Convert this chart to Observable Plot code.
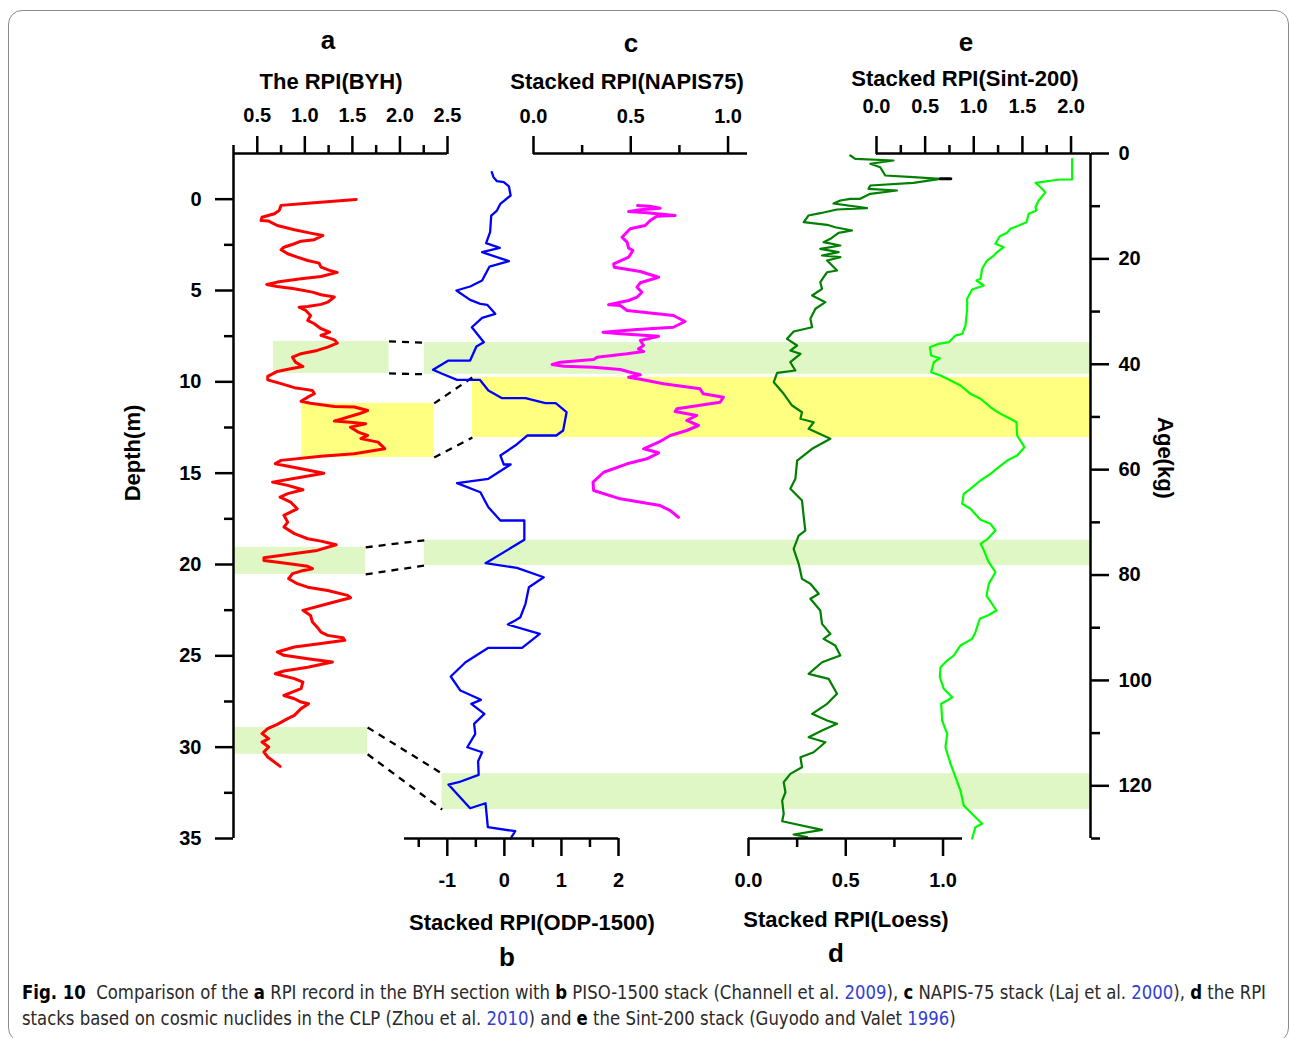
<!DOCTYPE html>
<html><head><meta charset="utf-8">
<script src="https://cdn.jsdelivr.net/npm/d3@7"></script>
<script src="https://cdn.jsdelivr.net/npm/@observablehq/plot@0.6"></script>
<style>
body{margin:0;background:#fff;}
#fig{position:relative;width:1290px;height:1038px;overflow:hidden;background:#fff;}
#border{position:absolute;left:8px;top:10px;width:1281px;height:1032px;border:1.5px solid #8c8c8c;border-radius:14px;box-sizing:border-box;}
.layer{position:absolute;left:0;top:0;}
.ttl{position:absolute;font-family:"Liberation Sans",Arial,sans-serif;font-weight:bold;color:#000;line-height:1;white-space:nowrap;transform:translate(-50%,-50%);}
#caption{position:absolute;left:22px;top:979px;font-family:"Liberation Sans Narrow","DejaVu Sans Condensed","Noto Sans",sans-serif;font-size:19px;line-height:26px;color:#2a2a2a;white-space:nowrap;transform-origin:0 0;}
#caption b{color:#000}
#caption .ref{color:#3240d4}
</style></head><body>
<div id="fig"><div id="border"></div><div id="chart"></div><div id="titles"></div>
<div id="caption"><span id="cap1"><b>Fig. 10</b>&nbsp; Comparison of the <b>a</b> RPI record in the BYH section with <b>b</b> PISO-1500 stack (Channell et al. <span class="ref">2009</span>), <b>c</b> NAPIS-75 stack (Laj et al. <span class="ref">2000</span>), <b>d</b> the RPI</span><br>stacks based on cosmic nuclides in the CLP (Zhou et al. <span class="ref">2010</span>) and <b>e</b> the Sint-200 stack (Guyodo and Valet <span class="ref">1996</span>)</div>
</div>
<script>
// ---------------- DATA ----------------
// a: RPI of BYH section, [depth (m), RPI]
const byhSeries = [[0.02,1.54],[0.22,1.03],[0.34,0.75],[0.62,0.73],[0.80,0.68],[0.99,0.55],[1.17,0.54],[1.20,0.62],[1.44,0.71],[1.67,0.89],[1.86,1.06],[1.99,1.19],[2.22,1.10],[2.30,0.96],[2.44,0.89],[2.63,0.78],[2.77,0.75],[2.99,0.82],[3.17,0.92],[3.36,1.03],[3.50,1.15],[3.72,1.17],[3.90,1.26],[4.01,1.34],[4.23,1.17],[4.36,0.96],[4.54,0.71],[4.67,0.60],[4.78,0.71],[4.90,0.89],[5.09,1.08],[5.23,1.17],[5.36,1.31],[5.64,1.24],[5.76,1.17],[5.87,1.03],[5.91,0.94],[6.09,1.01],[6.37,1.06],[6.64,1.03],[6.82,1.10],[7.09,1.17],[7.28,1.26],[7.46,1.17],[7.70,1.31],[7.88,1.34],[8.10,1.24],[8.28,1.13],[8.46,0.96],[8.65,0.87],[8.92,0.90],[9.16,0.98],[9.28,0.85],[9.43,0.71],[9.70,0.61],[9.89,0.61],[10.10,0.75],[10.32,0.89],[10.40,0.99],[10.47,1.08],[10.65,1.10],[10.84,1.03],[11.06,0.96],[11.17,1.06],[11.35,1.31],[11.38,1.52],[11.57,1.66],[11.75,1.57],[12.15,1.31],[12.21,1.48],[12.29,1.64],[12.48,1.48],[12.75,1.56],[12.93,1.66],[13.11,1.59],[13.30,1.77],[13.66,1.84],[13.94,1.52],[14.08,1.17],[14.30,0.75],[14.48,0.69],[14.76,0.96],[15.00,1.20],[15.22,0.96],[15.49,0.66],[15.67,0.82],[15.91,0.98],[16.12,0.82],[16.31,0.74],[16.58,0.85],[16.95,0.92],[17.31,0.78],[17.68,0.82],[17.95,0.78],[18.31,0.89],[18.59,1.03],[18.72,1.17],[18.92,1.33],[19.23,1.13],[19.45,0.82],[19.63,0.57],[19.78,0.57],[19.92,0.78],[20.10,1.03],[20.23,1.08],[20.36,0.96],[20.50,0.87],[20.78,0.83],[21.05,0.92],[21.24,1.03],[21.42,1.24],[21.69,1.45],[21.82,1.48],[22.15,1.24],[22.51,0.98],[22.79,1.06],[23.15,1.08],[23.43,1.13],[23.70,1.17],[23.88,1.24],[24.01,1.40],[24.15,1.42],[24.33,1.17],[24.52,0.89],[24.79,0.71],[24.97,0.78],[25.16,1.03],[25.34,1.29],[25.62,1.03],[25.83,0.78],[25.98,0.69],[26.25,0.89],[26.44,0.98],[26.80,0.96],[27.17,0.78],[27.35,0.89],[27.53,0.96],[27.62,1.04],[27.89,0.96],[28.26,0.89],[28.44,0.82],[28.75,0.71],[28.99,0.61],[29.26,0.55],[29.53,0.62],[29.72,0.55],[29.99,0.62],[30.27,0.57],[30.54,0.61],[31.05,0.74]];

// b: PISO-1500 / ODP stack, [age (ka), RPI]
const odpSeries = [[3.55,-0.22],[4.50,-0.19],[5.26,-0.13],[5.45,-0.01],[6.26,0.08],[7.97,0.11],[9.55,-0.07],[10.82,-0.13],[11.77,-0.23],[14.94,-0.25],[17.02,-0.32],[17.90,-0.08],[18.73,-0.39],[20.44,0.08],[21.45,-0.26],[24.10,-0.39],[25.24,-0.60],[26.00,-0.84],[27.77,-0.60],[28.53,-0.42],[28.72,-0.30],[30.42,-0.16],[31.18,-0.39],[32.97,-0.57],[35.81,-0.36],[36.63,-0.49],[39.29,-0.60],[39.29,-0.98],[41.05,-1.25],[41.81,-1.09],[42.95,-0.83],[42.95,-0.43],[44.98,-0.28],[46.44,-0.04],[46.44,0.37],[47.39,0.72],[47.39,0.90],[49.10,1.09],[52.57,1.03],[53.52,0.91],[53.52,0.40],[55.42,0.19],[57.32,-0.07],[59.02,-0.01],[59.02,0.11],[61.74,-0.28],[62.57,-0.83],[64.28,-0.42],[65.53,-0.36],[67.13,-0.28],[69.65,-0.07],[69.65,0.35],[73.32,0.35],[77.76,-0.33],[78.63,0.22],[80.42,0.69],[82.31,0.43],[85.46,0.37],[88.01,0.28],[88.63,0.19],[89.39,0.06],[91.16,0.62],[93.81,0.31],[93.81,-0.28],[96.55,-0.68],[99.26,-0.94],[101.92,-0.77],[103.68,-0.41],[104.44,-0.58],[106.34,-0.35],[108.24,-0.53],[110.13,-0.51],[112.68,-0.65],[113.63,-0.39],[115.33,-0.46],[117.92,-0.45],[119.32,-0.80],[119.76,-0.98],[124.26,-0.60],[123.31,-0.33],[127.86,-0.29],[128.62,0.19],[130.0,0.11]];

// c: NAPIS-75 stack, [age (ka), RPI]
const napisSeries = [[9.87,0.535],[10.00,0.596],[10.38,0.651],[10.69,0.549],[11.01,0.489],[11.25,0.583],[11.77,0.728],[11.90,0.634],[12.72,0.600],[13.67,0.574],[14.29,0.497],[15.89,0.455],[16.83,0.481],[17.97,0.489],[18.41,0.511],[19.68,0.489],[20.93,0.412],[21.58,0.415],[22.39,0.549],[23.48,0.643],[24.54,0.549],[25.37,0.532],[26.32,0.557],[27.27,0.532],[27.90,0.489],[28.72,0.386],[28.85,0.446],[29.80,0.481],[30.75,0.719],[31.88,0.779],[32.97,0.719],[33.40,0.532],[33.92,0.357],[34.22,0.446],[34.67,0.643],[35.49,0.549],[36.44,0.566],[37.07,0.540],[37.58,0.566],[38.02,0.481],[38.66,0.327],[39.10,0.309],[39.61,0.138],[40.05,0.096],[40.37,0.155],[40.56,0.309],[41.00,0.446],[41.51,0.497],[42.00,0.549],[42.46,0.489],[42.89,0.557],[43.71,0.668],[44.66,0.856],[45.61,0.873],[46.25,0.976],[47.20,0.959],[48.45,0.737],[48.97,0.728],[49.72,0.839],[50.67,0.788],[51.62,0.848],[52.57,0.788],[53.52,0.703],[54.79,0.643],[56.04,0.566],[56.80,0.643],[57.94,0.583],[58.89,0.481],[60.49,0.361],[62.38,0.306],[63.96,0.309],[65.54,0.446],[66.81,0.651],[67.76,0.703],[69.03,0.745]];

// d: Loess (cosmic nuclide) stack, [age (ka), RPI]
const loessSeries = [[0.38,0.523],[1.01,0.549],[1.33,0.745],[1.95,0.626],[2.60,0.677],[4.18,0.703],[4.50,0.848],[4.80,0.985],[5.56,0.848],[6.07,0.626],[6.70,0.617],[7.02,0.763],[7.65,0.626],[8.60,0.574],[8.60,0.523],[8.92,0.472],[9.49,0.437],[10.38,0.609],[10.63,0.455],[11.33,0.369],[11.77,0.308],[13.04,0.284],[13.53,0.404],[13.99,0.446],[14.61,0.532],[15.05,0.463],[16.19,0.421],[16.83,0.386],[17.46,0.472],[18.09,0.369],[18.73,0.463],[19.36,0.378],[19.68,0.472],[20.31,0.404],[22.21,0.455],[22.53,0.404],[24.43,0.369],[25.68,0.378],[26.95,0.327],[28.22,0.395],[29.47,0.344],[31.37,0.318],[32.97,0.327],[33.78,0.232],[35.17,0.198],[36.44,0.250],[37.39,0.215],[38.02,0.267],[39.61,0.215],[41.18,0.241],[41.62,0.147],[43.41,0.130],[45.61,0.181],[47.83,0.224],[49.10,0.275],[50.35,0.267],[51.00,0.335],[52.25,0.309],[54.15,0.421],[56.04,0.327],[58.27,0.250],[61.74,0.241],[63.64,0.215],[65.86,0.275],[69.03,0.284],[71.55,0.292],[72.50,0.258],[75.02,0.232],[77.87,0.258],[80.72,0.275],[81.66,0.318],[83.56,0.361],[84.51,0.318],[86.73,0.369],[89.26,0.378],[91.16,0.421],[92.11,0.386],[93.38,0.446],[95.27,0.472],[96.55,0.378],[98.75,0.309],[99.70,0.412],[102.54,0.455],[104.44,0.404],[106.34,0.327],[107.61,0.404],[108.24,0.455],[109.51,0.378],[110.78,0.309],[111.73,0.395],[113.63,0.335],[114.58,0.267],[116.47,0.275],[117.74,0.215],[119.32,0.181],[121.22,0.190],[122.80,0.173],[125.32,0.181],[126.72,0.173],[128.35,0.378],[129.24,0.232],[129.75,0.301]];
const loessTip = [[4.80,0.985],[4.80,1.04]];

// e: Sint-200 stack, [age (ka), RPI]
const sintSeries = [[1.01,2.011],[4.93,2.011],[4.93,1.884],[5.56,1.634],[6.40,1.686],[7.34,1.737],[8.92,1.668],[10.19,1.634],[10.82,1.644],[11.44,1.565],[13.04,1.542],[13.80,1.446],[14.29,1.377],[15.05,1.343],[15.70,1.267],[17.14,1.223],[17.78,1.308],[18.73,1.240],[19.36,1.206],[20.31,1.137],[21.88,1.086],[23.78,1.069],[24.10,1.028],[25.05,1.103],[25.81,0.983],[27.58,0.932],[29.47,0.932],[32.64,0.915],[34.22,0.881],[34.54,0.812],[35.81,0.743],[36.12,0.640],[36.76,0.548],[38.34,0.562],[38.85,0.651],[39.61,0.589],[41.51,0.562],[42.13,0.658],[42.76,0.727],[44.03,0.863],[45.61,0.966],[46.55,1.069],[48.15,1.172],[49.40,1.274],[50.35,1.377],[51.00,1.439],[53.52,1.446],[55.74,1.521],[57.32,1.446],[58.27,1.343],[59.54,1.257],[60.80,1.172],[62.06,1.069],[63.64,0.966],[64.58,0.897],[66.48,0.881],[67.43,0.966],[69.52,1.069],[70.28,1.172],[71.55,1.223],[73.13,1.144],[74.07,1.069],[75.02,1.097],[77.57,1.154],[79.46,1.223],[81.67,1.154],[83.89,1.131],[86.73,1.233],[87.68,1.144],[88.31,1.062],[90.85,1.017],[92.11,0.983],[93.38,0.863],[95.27,0.794],[96.22,0.727],[97.49,0.658],[99.39,0.651],[101.59,0.692],[103.19,0.778],[103.82,0.727],[104.44,0.665],[107.61,0.675],[110.13,0.727],[112.68,0.709],[115.83,0.761],[118.37,0.812],[120.90,0.863],[123.74,0.897],[125.01,0.966],[127.21,1.086],[127.86,1.017],[130.0,0.983]];

// correlation bands
const bandKind       = ["green", "yellow", "green", "green"];
const bandDepthTop   = [7.79, 11.18, 19.06, 28.92];   // m (BYH)
const bandDepthBot   = [9.54, 14.14, 20.54, 30.39];
const bandRpiFrom    = [0.67, 0.97, 0.25, 0.25];     // BYH RPI units
const bandRpiTo      = [1.885, 2.36, 1.64, 1.66];
const bandAgeTop     = [35.9, 42.5, 73.4, 117.7];     // ka
const bandAgeBot     = [41.9, 53.9, 78.2, 124.5];
const bandOdpFrom    = [-1.40, -0.56, -1.40, -1.09];  // ODP RPI units

// ticks
const depthMajor = [0, 5, 10, 15, 20, 25, 30, 35];
const depthMinor = [2.5, 7.5, 12.5, 17.5, 22.5, 27.5, 32.5];
const ageMajor = [0, 20, 40, 60, 80, 100, 120];
const ageMinor = [10, 30, 50, 70, 90, 110, 130];
const aMajor = [0.5, 1.0, 1.5, 2.0, 2.5], aMinor = [0.75, 1.25, 1.75, 2.25];
const bMajor = [-1, 0, 1, 2], bMinor = [-1.5, -0.5, 0.5, 1.5];
const cMajor = [0, 0.5, 1.0], cMinor = [0.25, 0.75];
const dMajor = [0, 0.5, 1.0], dMinor = [0.25, 0.75];
const eMajor = [0, 0.5, 1.0, 1.5, 2.0], eMinor = [0.25, 0.75, 1.25, 1.75];

// titles: text, centre x, centre y, size, rotation
const titleText = ["a", "The RPI(BYH)", "c", "Stacked RPI(NAPIS75)", "e", "Stacked RPI(Sint-200)", "Stacked RPI(ODP-1500)", "b", "Stacked RPI(Loess)", "d", "Depth(m)", "Age(kg)"];

// ---------------- LAYOUT ----------------
const titleLayout = [[328,40,26,0],[331,82,22,0],[631,43,26,0],[627,82,22,0],[966,42,26,0],[965,79,22,0],[532,923,22,0],[507,957,26,0],[846,920,22,0],[836,953,26,0],[133,453,22,-90],[1165,458,22,90]];
const W = 1290, H = 975;
const TOP = 153, BOTTOM = 838;
const FONT = '"Liberation Sans", Arial, Helvetica, sans-serif';
const depthDomain = [-2.5, 35], ageDomain = [0, 130];
const pA = {left: 233, right: 447, domain: [0.25, 2.5]};
const pB = {left: 404, right: 618, domain: [-1.75, 2]};
const pC = {left: 533, right: 747, domain: [0, 1.1]};
const pD = {left: 748, right: 962, domain: [0, 1.1]};
const pE = {left: 876, right: 1090, domain: [0, 2.2]};
const SW = 2.5;
const GREEN_BAND = "#dff7c5", YELLOW_BAND = "#ffff80";
const fillOf = k => k === "green" ? GREEN_BAND : YELLOW_BAND;

function layer(p, yDomain, marks) {
  return Plot.plot({
    width: W, height: H,
    marginLeft: p.left, marginRight: W - p.right, marginTop: TOP, marginBottom: H - BOTTOM,
    x: {domain: p.domain, axis: null},
    y: {domain: yDomain, reverse: true, axis: null},
    style: {background: "transparent", fontFamily: FONT, fontSize: "20px", fontWeight: "bold", color: "#000", overflow: "visible"},
    marks
  });
}
const f1 = d3.format(".1f");
const fInt = d => String(d);
const blank = () => "";
function xAxis(anchor, major, minor, fmt, pad) {
  return [
    Plot.axisX(minor, {anchor, tickSize: 9, tickFormat: blank, strokeWidth: SW, label: null}),
    Plot.axisX(major, {anchor, tickSize: 18, tickPadding: pad, tickFormat: fmt, strokeWidth: SW, label: null})
  ];
}

// helper scales (same mapping as the layers) for linking panels
const xA = d3.scaleLinear(pA.domain, [pA.left, pA.right]);
const xB = d3.scaleLinear(pB.domain, [pB.left, pB.right]);
const yDepth = d3.scaleLinear(depthDomain, [TOP, BOTTOM]);
const yAge = d3.scaleLinear(ageDomain, [TOP, BOTTOM]);
const depthToAge = d => yAge.invert(yDepth(d));
const aToB = v => xB.invert(xA(v));

const leftBands = bandKind.map((k, i) => ({k, x1: bandRpiFrom[i], x2: bandRpiTo[i], y1: bandDepthTop[i], y2: bandDepthBot[i]}));
const rightEdgeB = xB.invert(pE.right);
const rightBands = bandKind.map((k, i) => ({k, x1: bandOdpFrom[i], x2: rightEdgeB, y1: bandAgeTop[i], y2: bandAgeBot[i]}));
const links = bandKind.flatMap((k, i) => [
  {x1: aToB(bandRpiTo[i]), y1: depthToAge(bandDepthTop[i]), x2: bandOdpFrom[i], y2: bandAgeTop[i]},
  {x1: aToB(bandRpiTo[i]), y1: depthToAge(bandDepthBot[i]), x2: bandOdpFrom[i], y2: bandAgeBot[i]}
]);

// ---------------- LAYERS ----------------
const layers = [];
// a
layers.push(layer(pA, depthDomain, [
  Plot.rect(leftBands, {x1: "x1", x2: "x2", y1: "y1", y2: "y2", fill: d => fillOf(d.k)}),
  Plot.line(byhSeries, {x: d => d[1], y: d => d[0], stroke: "#ff0000", strokeWidth: 3}),
  Plot.ruleY([depthDomain[0]], {strokeWidth: SW}),
  Plot.ruleX([pA.domain[0]], {strokeWidth: SW, insetTop: -8}),
  ...xAxis("top", aMajor, aMinor, f1, 14),
  Plot.axisY(depthMinor, {anchor: "left", tickSize: 9, tickFormat: blank, strokeWidth: SW, label: null}),
  Plot.axisY(depthMajor, {anchor: "left", tickSize: 18, tickPadding: 14, strokeWidth: SW, label: null})
]));
// b
layers.push(layer(pB, ageDomain, [
  Plot.rect(rightBands, {x1: "x1", x2: "x2", y1: "y1", y2: "y2", fill: d => fillOf(d.k)}),
  Plot.link(links, {x1: "x1", y1: "y1", x2: "x2", y2: "y2", stroke: "#000", strokeWidth: 2.3, strokeDasharray: "7,6"}),
  Plot.line(odpSeries, {x: d => d[1], y: d => d[0], stroke: "#0000ff", strokeWidth: 2.3}),
  Plot.ruleY([ageDomain[1]], {strokeWidth: SW}),
  ...xAxis("bottom", bMajor, bMinor, fInt, 16)
]));
// c
layers.push(layer(pC, ageDomain, [
  Plot.line(napisSeries, {x: d => d[1], y: d => d[0], stroke: "#ff00ff", strokeWidth: 3}),
  Plot.ruleY([ageDomain[0]], {strokeWidth: SW}),
  ...xAxis("top", cMajor, cMinor, f1, 13)
]));
// d
layers.push(layer(pD, ageDomain, [
  Plot.line(loessSeries, {x: d => d[1], y: d => d[0], stroke: "#008000", strokeWidth: 2.2}),
  Plot.line(loessTip, {x: d => d[1], y: d => d[0], stroke: "#000", strokeWidth: 3}),
  Plot.ruleY([ageDomain[1]], {strokeWidth: SW}),
  ...xAxis("bottom", dMajor, dMinor, f1, 16)
]));
// e
layers.push(layer(pE, ageDomain, [
  Plot.line(sintSeries, {x: d => d[1], y: d => d[0], stroke: "#00ff00", strokeWidth: 2.2}),
  Plot.ruleY([ageDomain[0]], {strokeWidth: SW}),
  Plot.ruleX([pE.domain[1]], {strokeWidth: SW}),
  ...xAxis("top", eMajor, eMinor, f1, 23),
  Plot.axisY(ageMinor, {anchor: "right", tickSize: 9, tickFormat: blank, strokeWidth: SW, label: null}),
  Plot.axisY(ageMajor, {anchor: "right", tickSize: 18, tickPadding: 10, strokeWidth: SW, label: null})
]));

const chart = document.getElementById("chart");
for (const svg of layers) { svg.classList.add("layer"); chart.appendChild(svg); }

// titles
const titles = document.getElementById("titles");
titleText.forEach((t, i) => {
  const [x, y, s, r] = titleLayout[i];
  const el = document.createElement("div");
  el.className = "ttl";
  el.textContent = t;
  el.style.left = x + "px";
  el.style.top = y + "px";
  el.style.fontSize = s + "px";
  if (r) el.style.transform = `translate(-50%,-50%) rotate(${r}deg)`;
  titles.appendChild(el);
});

// fit caption width
const cap = document.getElementById("caption");
const w1 = document.getElementById("cap1").getBoundingClientRect().width;
cap.style.transform = `scaleX(${1244 / w1})`;
</script>
</body></html>
